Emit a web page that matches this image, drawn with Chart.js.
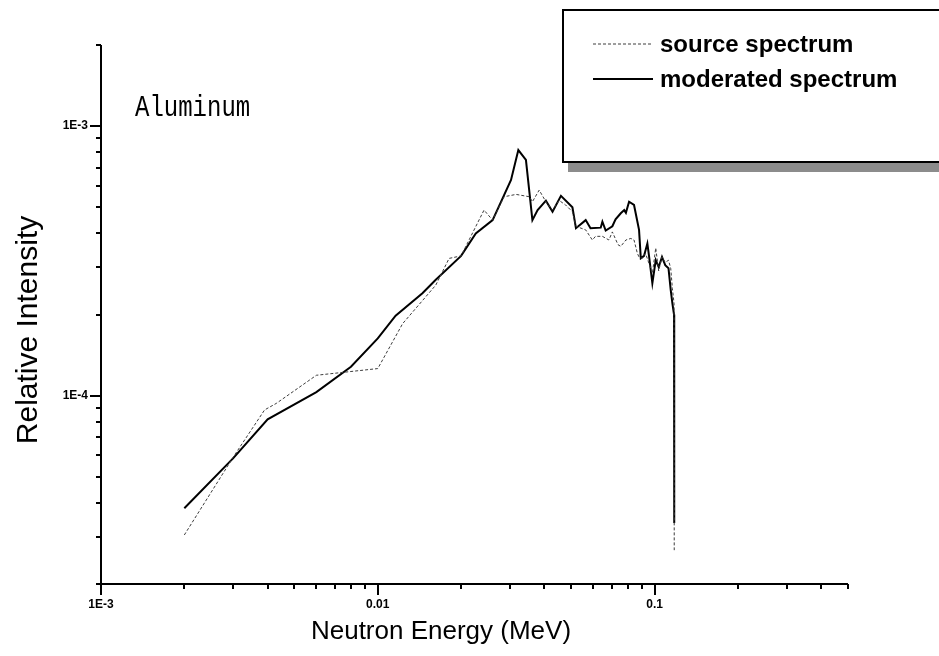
<!DOCTYPE html>
<html>
<head>
<meta charset="utf-8">
<script src="https://cdn.jsdelivr.net/npm/chart.js@4.4.1/dist/chart.umd.min.js"></script>
<style>
  html, body { margin: 0; padding: 0; background: #fff; }
  #wrap { width: 939px; height: 656px; }
</style>
</head>
<body>
<div id="wrap"><canvas id="chart" width="939" height="656"></canvas></div>
<script>
// values (MeV, relative intensity)
const sourceEnergy = [0.002, 0.003, 0.0039, 0.0043, 0.006, 0.010, 0.0123, 0.0162, 0.0181, 0.020,
  0.0242, 0.026, 0.0286, 0.0316, 0.0353, 0.0362, 0.0383, 0.0405, 0.0428, 0.0452,
  0.0477, 0.0505, 0.052, 0.0564, 0.0596, 0.0612, 0.0648, 0.0684, 0.0704, 0.0738,
  0.0755, 0.0788, 0.0821, 0.0843, 0.0867, 0.0879, 0.0902, 0.0928, 0.0982, 0.101,
  0.1035, 0.1064, 0.1093, 0.1123, 0.1144, 0.116, 0.1176, 0.1178];
const sourceIntensity = [3.04e-5, 5.9e-5, 8.85e-5, 9.36e-5, 1.19e-4, 1.26e-4, 1.85e-4, 2.57e-4, 3.23e-4, 3.3e-4,
  4.88e-4, 4.48e-4, 5.47e-4, 5.58e-4, 5.47e-4, 5.24e-4, 5.79e-4, 5.24e-4, 4.88e-4, 5.3e-4,
  5.1e-4, 4.81e-4, 4.25e-4, 4.12e-4, 3.78e-4, 3.9e-4, 3.9e-4, 3.78e-4, 4.05e-4, 3.63e-4,
  3.58e-4, 3.78e-4, 3.83e-4, 3.78e-4, 3.37e-4, 3.27e-4, 3.23e-4, 3.37e-4, 2.84e-4, 3.53e-4,
  2.9e-4, 3.27e-4, 3.12e-4, 3.18e-4, 2.97e-4, 2.5e-4, 2.2e-4, 2.67e-5];

const moderatedEnergy = [0.002, 0.003, 0.004, 0.006, 0.008, 0.010, 0.0116, 0.0145, 0.0162, 0.020,
  0.0226, 0.026, 0.0303, 0.0322, 0.0343, 0.0362, 0.0378, 0.0405, 0.0428, 0.0459,
  0.0505, 0.052, 0.0564, 0.0587, 0.0639, 0.0648, 0.0666, 0.0704, 0.0723, 0.0755,
  0.0777, 0.0788, 0.0809, 0.0843, 0.0879, 0.0892, 0.0916, 0.0942, 0.0955, 0.0982,
  0.101, 0.1035, 0.1064, 0.1093, 0.1123, 0.1144, 0.116, 0.1176, 0.1178];
const moderatedIntensity = [3.82e-5, 5.85e-5, 8.17e-5, 1.03e-4, 1.28e-4, 1.63e-4, 1.98e-4, 2.4e-4, 2.69e-4, 3.3e-4,
  4.0e-4, 4.48e-4, 6.31e-4, 8.15e-4, 7.49e-4, 4.48e-4, 4.88e-4, 5.29e-4, 4.81e-4, 5.51e-4,
  5.0e-4, 4.18e-4, 4.48e-4, 4.18e-4, 4.2e-4, 4.42e-4, 4.1e-4, 4.25e-4, 4.51e-4, 4.75e-4,
  4.88e-4, 4.77e-4, 5.24e-4, 5.1e-4, 4.12e-4, 3.23e-4, 3.3e-4, 3.67e-4, 3.3e-4, 2.61e-4,
  3.18e-4, 3.0e-4, 3.27e-4, 3.05e-4, 2.97e-4, 2.47e-4, 2.2e-4, 2.0e-4, 3.37e-5];

const xTickValues = [0.001, 0.01, 0.1];
const xTickLabels = ['1E-3', '0.01', '0.1'];
const yTickValues = [1e-4, 1e-3];
const yTickLabels = ['1E-4', '1E-3'];

const sampleName = 'Aluminum';
const xTitle = 'Neutron Energy (MeV)';
const yTitle = 'Relative Intensity';

const SANS = '"Liberation Sans", Arial, Helvetica, sans-serif';

function toPoints(xs, ys) {
    return xs.map((x, i) => ({ x: x, y: ys[i] }));
}

function indexOfTick(v, list) {
    return list.findIndex(t => Math.abs(v / t - 1) < 1e-6);
}

// every 1..9 x 10^n position between min and max (minor ticks)
function logTicks(min, max) {
    const out = [];
    for (let e = Math.floor(Math.log10(min)); e <= Math.ceil(Math.log10(max)); e++) {
        for (let m = 1; m < 10; m++) {
            const v = m * Math.pow(10, e);
            if (v >= min * 0.999 && v <= max * 1.001) out.push(v);
        }
    }
    return out;
}

// Origin-style axes: only left + bottom, ticks outside
const originAxes = {
    id: 'originAxes',
    afterDraw(chart) {
        const { ctx, chartArea: a, scales } = chart;
        const x = scales.x, y = scales.y;
        ctx.save();
        ctx.strokeStyle = '#000';
        ctx.lineWidth = 2;
        ctx.beginPath();
        ctx.moveTo(a.left, a.top);
        ctx.lineTo(a.left, a.bottom);
        ctx.lineTo(a.right, a.bottom);
        ctx.stroke();

        ctx.beginPath();
        logTicks(x.min, x.max).forEach(v => {
            const px = Math.round(x.getPixelForValue(v));
            const len = indexOfTick(v, xTickValues) >= 0 ? 11 : 5;
            ctx.moveTo(px, a.bottom);
            ctx.lineTo(px, a.bottom + len);
        });
        logTicks(y.min, y.max).forEach(v => {
            const py = Math.round(y.getPixelForValue(v));
            const len = indexOfTick(v, yTickValues) >= 0 ? 11 : 5;
            ctx.moveTo(a.left, py);
            ctx.lineTo(a.left - len, py);
        });
        ctx.stroke();

        // axis titles
        ctx.fillStyle = '#000';
        ctx.textAlign = 'center';
        ctx.textBaseline = 'middle';
        ctx.font = '26px ' + SANS;
        ctx.fillText(xTitle, 441, 632);
        ctx.font = '30px ' + SANS;
        ctx.translate(29, 330);
        ctx.rotate(-Math.PI / 2);
        ctx.fillText(yTitle, 0, 0);
        ctx.restore();

        // sample name, narrow typewriter look
        ctx.save();
        ctx.fillStyle = '#000';
        ctx.font = '30px "Liberation Mono", "DejaVu Sans Mono", monospace';
        ctx.textBaseline = 'alphabetic';
        ctx.translate(135, 116);
        ctx.scale(0.8, 1);
        ctx.fillText(sampleName, 0, 0);
        ctx.restore();
    }
};

// boxed legend with a dithered drop shadow, running off the right edge
const boxLegend = {
    id: 'boxLegend',
    afterDraw(chart) {
        const ctx = chart.ctx;
        const left = 563, top = 10, bottom = 162;
        ctx.save();
        ctx.fillStyle = '#8c8c8c';
        ctx.fillRect(568, bottom, chart.width - 568, 10);
        ctx.fillStyle = '#fff';
        ctx.fillRect(left, top, chart.width - left + 5, bottom - top);
        ctx.strokeStyle = '#000';
        ctx.lineWidth = 2;
        ctx.strokeRect(left, top, chart.width - left + 5, bottom - top);

        const rows = [44, 79];
        chart.data.datasets.forEach((ds, i) => {
            const yy = rows[i];
            ctx.strokeStyle = ds.borderColor;
            ctx.lineWidth = ds.borderWidth;
            ctx.setLineDash(ds.borderDash || []);
            ctx.beginPath();
            ctx.moveTo(593, yy);
            ctx.lineTo(653, yy);
            ctx.stroke();
            ctx.setLineDash([]);
            ctx.fillStyle = '#000';
            ctx.font = 'bold 24px ' + SANS;
            ctx.textBaseline = 'middle';
            ctx.textAlign = 'left';
            ctx.fillText(ds.label, 660, yy + 1);
        });
        ctx.restore();
    }
};

const tickFont = { family: SANS, size: 12, weight: 'bold' };

new Chart(document.getElementById('chart'), {
    type: 'line',
    data: {
        datasets: [
            {
                label: 'source spectrum',
                data: toPoints(sourceEnergy, sourceIntensity),
                borderColor: '#3c3c3c',
                borderWidth: 1,
                borderDash: [3, 2],
                pointRadius: 0,
                fill: false
            },
            {
                label: 'moderated spectrum',
                data: toPoints(moderatedEnergy, moderatedIntensity),
                borderColor: '#000000',
                borderWidth: 2,
                pointRadius: 0,
                fill: false
            }
        ]
    },
    options: {
        responsive: false,
        animation: false,
        layout: { padding: { top: 45, right: 91, bottom: 0, left: 0 } },
        plugins: {
            legend: { display: false },
            tooltip: { enabled: false }
        },
        scales: {
            x: {
                type: 'logarithmic',
                min: 0.001,
                max: 0.5,
                grid: { display: false, drawTicks: false },
                border: { display: false },
                afterBuildTicks: s => { s.ticks = xTickValues.map(v => ({ value: v })); },
                afterFit: s => { s.height = 72; },
                ticks: {
                    autoSkip: false,
                    maxRotation: 0,
                    padding: 13,
                    color: '#000',
                    font: tickFont,
                    callback: v => xTickLabels[indexOfTick(v, xTickValues)] || ''
                }
            },
            y: {
                type: 'logarithmic',
                min: 2e-5,
                max: 2e-3,
                grid: { display: false, drawTicks: false },
                border: { display: false },
                afterBuildTicks: s => { s.ticks = yTickValues.map(v => ({ value: v })); },
                afterFit: s => { s.width = 101; },
                ticks: {
                    autoSkip: false,
                    padding: 13,
                    color: '#000',
                    font: tickFont,
                    callback: v => yTickLabels[indexOfTick(v, yTickValues)] || ''
                }
            }
        }
    },
    plugins: [originAxes, boxLegend]
});
</script>
</body>
</html>
